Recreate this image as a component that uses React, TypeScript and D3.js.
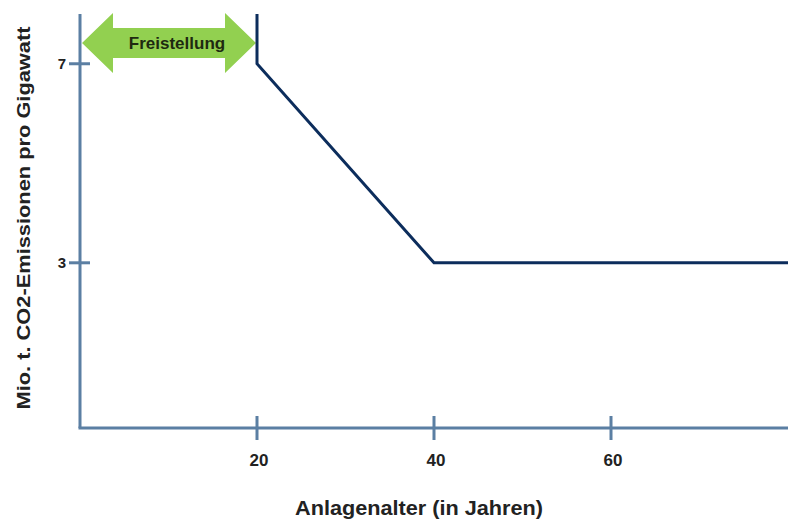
import React from "react";
import * as d3 from "d3";

const xTicks = [20, 40, 60];
const yTicks = [3, 7];
const emissionLine: [number, number][] = [
  [20, 8.0],
  [20, 7],
  [40, 3],
  [80, 3],
];
const freistellung = { from: 0, to: 20, label: "Freistellung" };
const xTitle = "Anlagenalter (in Jahren)";
const yTitle = "Mio. t. CO2-Emissionen pro Gigawatt";

const W = 788;
const H = 520;
const AXIS = "#5b7fa3";
const NAVY = "#0c2d5c";
const GREEN = "#92d050";

export default function App() {
  const x = d3.scaleLinear().domain([0, 80]).range([80, 788]);
  const y = d3.scaleLinear().domain([-0.32, 8.0]).range([428, 14]);
  const line = d3
    .line<[number, number]>()
    .x((d) => x(d[0]))
    .y((d) => y(d[1]))
    .curve(d3.curveLinear);

  const ax0 = x(freistellung.from) + 2;
  const ax1 = x(freistellung.to) - 1;
  const cy = 43;
  const headW = 31;
  const headH = 30;
  const bodyH = 15;
  const arrowPath = [
    [ax0, cy],
    [ax0 + headW, cy - headH],
    [ax0 + headW, cy - bodyH],
    [ax1 - headW, cy - bodyH],
    [ax1 - headW, cy - headH],
    [ax1, cy],
    [ax1 - headW, cy + headH],
    [ax1 - headW, cy + bodyH],
    [ax0 + headW, cy + bodyH],
    [ax0 + headW, cy + headH],
  ]
    .map((p, i) => (i === 0 ? "M" : "L") + p[0] + "," + p[1])
    .join("") + "Z";

  const font = "'Liberation Sans', Arial, sans-serif";

  return (
    <svg width={W} height={H} style={{ position: "absolute", left: 0, top: 0 }}>
      <rect width={W} height={H} fill="#fff" />
      {/* axes */}
      <line x1={x(0)} y1={14} x2={x(0)} y2={y(-0.32)} stroke={AXIS} strokeWidth={3} />
      <line x1={x(0) - 1.5} y1={y(-0.32)} x2={788} y2={y(-0.32)} stroke={AXIS} strokeWidth={3} />
      {yTicks.map((t) => (
        <g key={"y" + t}>
          <line x1={x(0) - 11} x2={x(0) + 10} y1={y(t)} y2={y(t)} stroke={AXIS} strokeWidth={3} />
          <text
            x={66}
            y={y(t)}
            dy="0.36em"
            textAnchor="end"
            fontFamily={font}
            fontWeight="bold"
            fontSize={15}
            fill="#222"
          >
            {t}
          </text>
        </g>
      ))}
      {xTicks.map((t) => (
        <g key={"x" + t}>
          <line x1={x(t)} x2={x(t)} y1={y(-0.32) - 12} y2={y(-0.32) + 12} stroke={AXIS} strokeWidth={3} />
          <text
            x={x(t) + 2}
            y={460}
            dy="0.36em"
            textAnchor="middle"
            fontFamily={font}
            fontWeight="bold"
            fontSize={17}
            fill="#222"
          >
            {t}
          </text>
        </g>
      ))}
      {/* titles */}
      <text
        x={419}
        y={515}
        textAnchor="middle"
        fontFamily={font}
        fontWeight="bold"
        fontSize={20}
        textLength={248}
        lengthAdjust="spacingAndGlyphs"
        fill="#222"
      >
        {xTitle}
      </text>
      <text
        transform={`translate(30,218) rotate(-90)`}
        x={0}
        y={0}
        textAnchor="middle"
        fontFamily={font}
        fontWeight="bold"
        fontSize={18}
        textLength={383}
        lengthAdjust="spacingAndGlyphs"
        fill="#222"
      >
        {yTitle}
      </text>
      {/* arrow */}
      <path d={arrowPath} fill={GREEN} />
      <text
        x={177}
        y={cy}
        dy="0.36em"
        textAnchor="middle"
        fontFamily={font}
        fontWeight="bold"
        fontSize={17}
        fill="#1e2a10"
      >
        {freistellung.label}
      </text>
      {/* data line */}
      <path d={line(emissionLine) || ""} fill="none" stroke={NAVY} strokeWidth={3} strokeLinejoin="miter" />
    </svg>
  );
}
